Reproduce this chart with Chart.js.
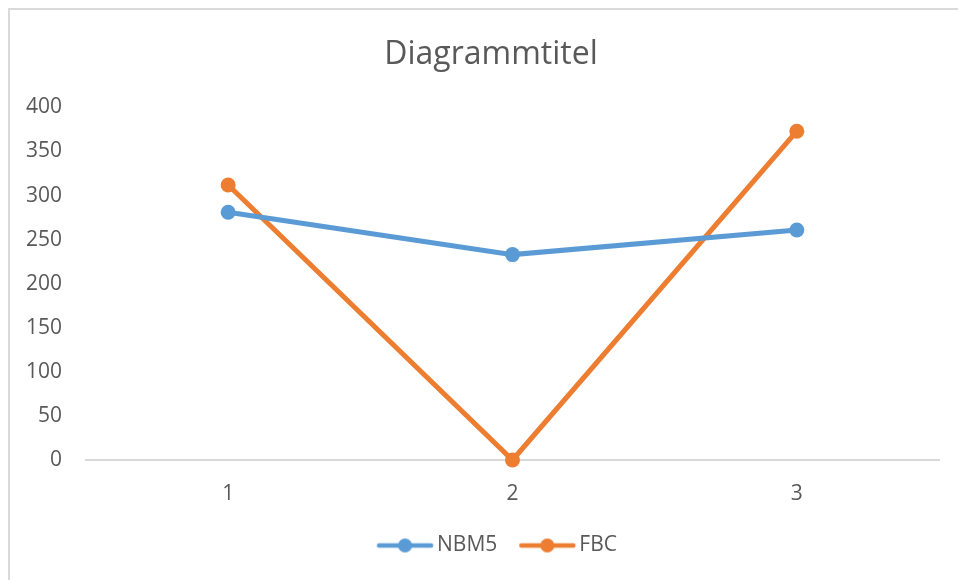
<!DOCTYPE html>
<html>
<head>
<meta charset="utf-8">
<script src="https://cdn.jsdelivr.net/npm/chart.js@4"></script>
<style>
  body { margin: 0; background: #fff; }
  .wrap { position: relative; width: 958px; height: 580px; overflow: hidden; }
  .frame { position: absolute; left: 8px; top: 8px; right: 0; bottom: 0;
           border-top: 2px solid #d9d9d9; border-left: 2px solid #d9d9d9; }
  canvas { position: absolute; left: 0; top: 0; }
</style>
</head>
<body>
<div class="wrap">
  <div class="frame"></div>
  <!-- excel's chart box goes past the right edge, so the canvas does too -->
  <canvas id="myChart" width="990" height="580"></canvas>
</div>
<script>
const categories = ['1', '2', '3'];
const nbm5 = [281, 233, 261];
const fbc = [312, 0, 373];
const yTicks = [0, 50, 100, 150, 200, 250, 300, 350, 400];

const textColor = '#595959';
const fontFamily = "'Open Sans', sans-serif";

const markerBox = 61.5;
// legend marker: short line with a dot, like excel.
// image is wider than the legend box, with empty space on the left,
// so the items get spread apart and the text sits close to the line
const legendMarker = (color) => {
  const c = document.createElement('canvas');
  c.width = 80;
  c.height = 16;
  const g = c.getContext('2d');
  const x0 = (c.width - markerBox) / 2 + 12;
  g.strokeStyle = color;
  g.lineWidth = 4.5;
  g.lineCap = 'round';
  g.beginPath();
  g.moveTo(x0 + 2, 8);
  g.lineTo(x0 + 54, 8);
  g.stroke();
  g.fillStyle = color;
  g.beginPath();
  g.arc(x0 + 28, 8, 7, 0, Math.PI * 2);
  g.fill();
  return c;
};

const series = [
  { label: 'NBM5', data: nbm5, color: '#5B9BD5' },
  { label: 'FBC', data: fbc, color: '#ED7D31' },
];

const ctx = document.getElementById('myChart').getContext('2d');
new Chart(ctx, {
  type: 'line',
  data: {
    labels: categories,
    datasets: series.map(s => ({
      label: s.label,
      data: s.data,
      borderColor: s.color,
      backgroundColor: s.color,
      borderWidth: 5,
      pointRadius: 7.5,
      pointHoverRadius: 7.5,
      pointBorderWidth: 0,
      pointStyle: 'circle',
      tension: 0,
      fill: false,
      clip: false,
    })),
  },
  options: {
    responsive: false,
    animation: false,
    layout: { padding: { left: 8, right: 16, top: 0, bottom: 14 } },
    plugins: {
      title: {
        display: true,
        text: 'Diagrammtitel',
        color: textColor,
        font: { family: fontFamily, size: 32, weight: 'normal' },
        padding: { top: 36, bottom: 33 },
      },
      legend: {
        position: 'bottom',
        labels: {
          color: textColor,
          font: { family: fontFamily, size: 21 },
          usePointStyle: true,
          pointStyleWidth: markerBox,
          padding: 10,
          generateLabels: (chart) => series.map((s, i) => ({
            text: s.label,
            pointStyle: legendMarker(s.color),
            fillStyle: s.color,
            strokeStyle: s.color,
            lineWidth: 0,
            datasetIndex: i,
            fontColor: textColor,
          })),
        },
      },
      tooltip: { enabled: false },
    },
    scales: {
      x: {
        offset: true,
        grid: { display: false, drawTicks: false },
        border: { display: true, color: '#d9d9d9', width: 2 },
        ticks: { color: textColor, font: { family: fontFamily, size: 21 }, padding: 21 },
        afterFit: (scale) => { scale.height = 65; },
      },
      y: {
        min: 0,
        max: 400,
        afterBuildTicks: (scale) => { scale.ticks = yTicks.map(v => ({ value: v })); },
        grid: { display: false, drawTicks: false },
        border: { display: false },
        ticks: { color: textColor, font: { family: fontFamily, size: 21 }, padding: 24 },
        afterFit: (scale) => { scale.width = 78; },
      },
      // empty right margin inside the plot box
      spacer: {
        position: 'right',
        grid: { display: false, drawTicks: false },
        border: { display: false },
        ticks: { display: false },
        afterFit: (scale) => { scale.width = 35; },
      },
    },
  },
});
</script>
</body>
</html>
